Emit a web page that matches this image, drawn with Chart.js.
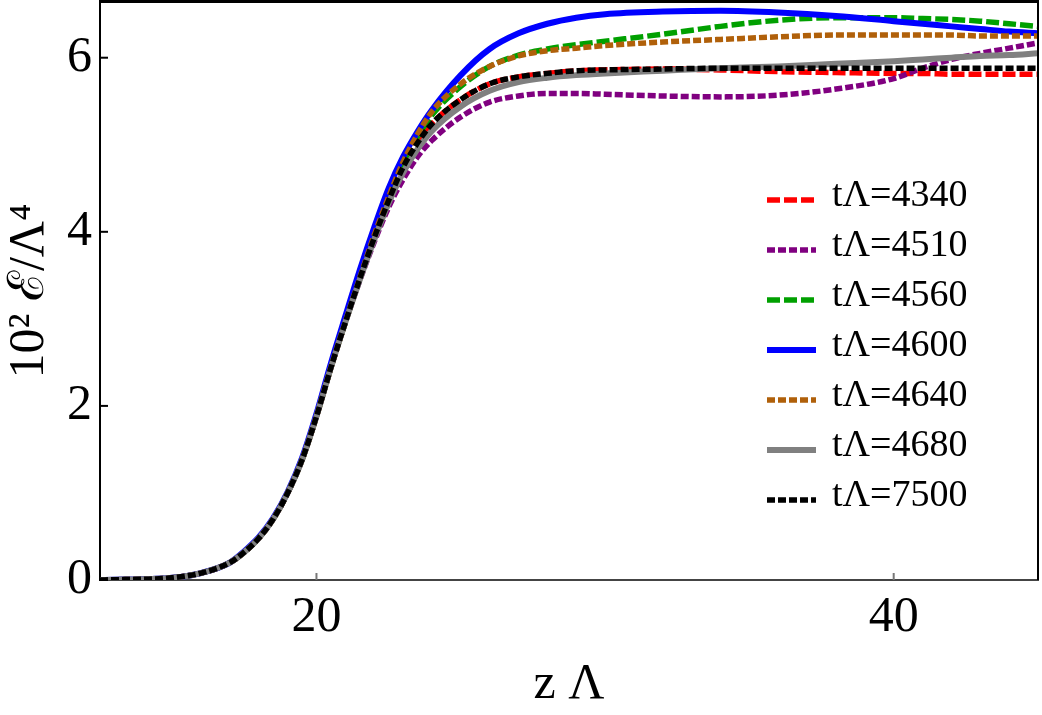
<!DOCTYPE html>
<html>
<head>
<meta charset="utf-8">
<script src="https://cdn.jsdelivr.net/npm/chart.js@4.4.1/dist/chart.umd.min.js"></script>
<style>
    html, body { margin: 0; padding: 0; background: #fff; }
</style>
</head>
<body>
<canvas id="perfiles" width="1042" height="715"></canvas>
<script>
// posiciones z (eje x) donde se leen las curvas
var zLambda = [12.5, 13, 14, 15, 16, 17, 17.5, 18, 18.5, 19, 19.5, 20, 20.5, 21, 21.5, 22, 22.5, 23, 23.5, 24,
    25, 26, 27, 28, 29, 30, 32, 34, 36, 38, 40, 41, 42, 43, 44, 45];

// 10^2 E / Lambda^4 para cada tiempo
var t4340 = [0, 0.003, 0.008, 0.025, 0.08, 0.2, 0.32, 0.48, 0.7, 1.0, 1.38, 1.88, 2.44, 2.96, 3.46, 3.93, 4.36, 4.74, 5.02, 5.24,
    5.52, 5.7, 5.78, 5.82, 5.85, 5.86, 5.87, 5.86, 5.84, 5.83, 5.82, 5.82, 5.81, 5.81, 5.81, 5.81];
var t4510 = [0, 0.003, 0.008, 0.025, 0.08, 0.2, 0.32, 0.48, 0.7, 1.0, 1.38, 1.88, 2.44, 2.96, 3.44, 3.88, 4.28, 4.6, 4.86, 5.05,
    5.32, 5.49, 5.56, 5.59, 5.59, 5.58, 5.56, 5.55, 5.57, 5.64, 5.76, 5.88, 5.98, 6.05, 6.11, 6.17];
var t4560 = [0, 0.003, 0.008, 0.025, 0.08, 0.2, 0.32, 0.48, 0.7, 1.0, 1.38, 1.88, 2.44, 2.96, 3.46, 3.94, 4.38, 4.78, 5.09, 5.34,
    5.67, 5.9, 6.03, 6.1, 6.15, 6.19, 6.27, 6.36, 6.43, 6.46, 6.46, 6.45, 6.44, 6.42, 6.39, 6.36];
var t4600 = [0, 0.003, 0.008, 0.025, 0.08, 0.2, 0.33, 0.49, 0.71, 1.01, 1.4, 1.91, 2.49, 3.03, 3.56, 4.05, 4.5, 4.86, 5.15, 5.4,
    5.8, 6.1, 6.28, 6.39, 6.46, 6.5, 6.53, 6.54, 6.52, 6.48, 6.42, 6.39, 6.36, 6.33, 6.3, 6.28];
var t4640 = [0, 0.003, 0.008, 0.025, 0.08, 0.2, 0.32, 0.48, 0.7, 1.0, 1.38, 1.88, 2.44, 2.96, 3.47, 3.96, 4.4, 4.8, 5.12, 5.38,
    5.7, 5.9, 6.02, 6.08, 6.11, 6.14, 6.18, 6.21, 6.24, 6.26, 6.26, 6.26, 6.26, 6.25, 6.25, 6.25];
var t4680 = [0, 0.003, 0.008, 0.025, 0.08, 0.2, 0.32, 0.48, 0.7, 1.0, 1.38, 1.88, 2.44, 2.96, 3.45, 3.91, 4.33, 4.68, 4.95, 5.16,
    5.44, 5.62, 5.72, 5.77, 5.8, 5.82, 5.85, 5.88, 5.9, 5.93, 5.96, 5.98, 6.0, 6.02, 6.03, 6.05];
var t7500 = [0, 0.003, 0.008, 0.025, 0.08, 0.2, 0.32, 0.48, 0.7, 1.0, 1.38, 1.88, 2.44, 2.96, 3.46, 3.93, 4.36, 4.74, 5.02, 5.24,
    5.52, 5.7, 5.78, 5.82, 5.85, 5.86, 5.87, 5.88, 5.88, 5.88, 5.88, 5.88, 5.88, 5.88, 5.88, 5.88];

var etiquetas = ['t\u039B=4340', 't\u039B=4510', 't\u039B=4560', 't\u039B=4600', 't\u039B=4640', 't\u039B=4680', 't\u039B=7500'];
var ticksX = [20, 40];
var ticksY = [0, 2, 4, 6];

var fuente = '"Liberation Serif", "Times New Roman", serif';

function puntos(valores) {
    var salida = [];
    for (var i = 0; i < zLambda.length; i++) {
        salida.push({ x: zLambda[i], y: valores[i] });
    }
    return salida;
}

function serie(ind, valores, color, guiones, ancho) {
    return {
        label: etiquetas[ind],
        data: puntos(valores),
        borderColor: color,
        backgroundColor: color,
        borderWidth: ancho,
        borderDash: guiones,
        borderCapStyle: 'butt',
        borderJoinStyle: 'round',
        pointRadius: 0,
        cubicInterpolationMode: 'monotone',
        fill: false,
        order: 6 - ind
    };
}

// sin relleno extra que chart.js reserva para las etiquetas extremas
function sinRelleno(scale) {
    scale.paddingTop = 0;
    scale.paddingBottom = 0;
    scale.paddingLeft = 0;
    scale.paddingRight = 0;
}

// marcas hacia adentro, marco superior/derecho y leyenda dentro del area
const adornos = {
    id: 'adornos',
    afterDatasetsDraw: function (chart) {
        var ctx = chart.ctx;
        var area = chart.chartArea;
        var sx = chart.scales.x;
        var sy = chart.scales.y;
        ctx.save();
        ctx.lineWidth = 2;
        ctx.strokeStyle = '#000';
        sy.ticks.forEach(function (t) {
            var y = sy.getPixelForValue(t.value);
            ctx.beginPath();
            ctx.moveTo(area.left, y);
            ctx.lineTo(area.left + 8, y);
            ctx.stroke();
        });
        ctx.strokeStyle = '#777';
        sx.ticks.forEach(function (t) {
            var x = sx.getPixelForValue(t.value);
            ctx.beginPath();
            ctx.moveTo(x, area.bottom);
            ctx.lineTo(x, area.bottom - 7);
            ctx.stroke();
        });
        ctx.strokeStyle = '#000';
        ctx.lineWidth = 3;
        ctx.beginPath();
        ctx.moveTo(area.left - 1, area.top - 0.5);
        ctx.lineTo(area.right + 1, area.top - 0.5);
        ctx.stroke();
        ctx.lineWidth = 2;
        ctx.beginPath();
        ctx.moveTo(area.right, area.top);
        ctx.lineTo(area.right, area.bottom);
        ctx.stroke();

        // leyenda
        ctx.font = '38px ' + fuente;
        ctx.textBaseline = 'middle';
        ctx.fillStyle = '#000';
        chart.data.datasets.forEach(function (ds, i) {
            var y = 200 + i * 50;
            ctx.strokeStyle = ds.borderColor;
            ctx.lineWidth = ds.borderWidth;
            ctx.setLineDash(ds.borderDash || []);
            ctx.beginPath();
            ctx.moveTo(767, y);
            ctx.lineTo(816, y);
            ctx.stroke();
            ctx.setLineDash([]);
            ctx.fillText(ds.label, 832, y - 4);
        });
        ctx.restore();
    }
};

const grafico = new Chart('perfiles', {
    type: 'line',
    data: {
        datasets: [
            serie(0, t4340, '#ff0000', [13, 4], 5.5),
            serie(1, t4510, '#800080', [8, 3], 5.5),
            serie(2, t4560, '#00a000', [13, 4], 5.5),
            serie(3, t4600, '#0000ff', [], 6),
            serie(4, t4640, '#b0600a', [8, 3], 5.5),
            serie(5, t4680, '#808080', [], 6),
            serie(6, t7500, '#000000', [8, 3], 5.5)
        ]
    },
    plugins: [adornos],
    options: {
        responsive: false,
        animation: false,
        devicePixelRatio: 1,
        layout: { padding: { top: 2, right: 4, left: 0, bottom: 0 } },
        plugins: {
            legend: { display: false },
            tooltip: { enabled: false }
        },
        scales: {
            x: {
                type: 'linear',
                min: 12.5,
                max: 45,
                afterBuildTicks: function (scale) {
                    scale.ticks = ticksX.map(function (v) { return { value: v }; });
                },
                afterFit: function (scale) {
                    scale.height = 135;
                    sinRelleno(scale);
                },
                grid: { display: false, drawTicks: false },
                border: { display: true, color: '#444', width: 2 },
                ticks: {
                    color: '#000',
                    padding: 8,
                    maxRotation: 0,
                    font: { family: fuente, size: 50 }
                },
                title: {
                    display: true,
                    text: 'z \u039B',
                    color: '#000',
                    padding: { top: 0, bottom: 0 },
                    font: { family: fuente, size: 50 }
                }
            },
            y: {
                min: 0,
                max: 6.64,
                afterBuildTicks: function (scale) {
                    scale.ticks = ticksY.map(function (v) { return { value: v }; });
                },
                afterFit: function (scale) {
                    scale.width = 100;
                    sinRelleno(scale);
                },
                grid: { display: false, drawTicks: false },
                border: { display: true, color: '#000', width: 2 },
                ticks: {
                    color: '#000',
                    padding: 8,
                    font: { family: fuente, size: 50 }
                },
                title: {
                    display: true,
                    text: '10\u00B2 \u2130/\u039B\u2074',
                    color: '#000',
                    padding: { top: 0, bottom: 0 },
                    font: { family: fuente, size: 50 }
                }
            }
        }
    }
});
</script>
</body>
</html>
